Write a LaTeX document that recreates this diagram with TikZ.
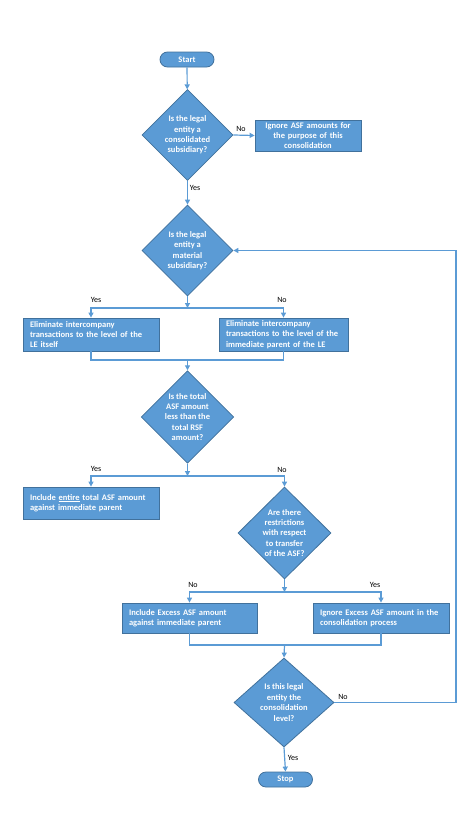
\documentclass[tikz,border=0pt]{standalone}
\usepackage{fontspec}
\setmainfont{Carlito}
\usetikzlibrary{shapes.geometric,arrows.meta}

\definecolor{asfblue}{HTML}{5B9BD5}
\definecolor{asfedge}{HTML}{41719C}
\newcommand{\boxfont}{\bfseries\fontsize{8.5}{10.4}\selectfont}

\tikzset{
	terminal/.style={rectangle,draw=asfedge,fill=asfblue,line width=0.8pt,rounded corners=7.5pt,
		minimum width=54pt,minimum height=15pt,inner sep=0pt,text=white,font=\boxfont},
	decision/.style={diamond,draw=asfedge,fill=asfblue,line width=0.8pt,inner sep=0pt,
		minimum width=91pt,minimum height=91pt,align=center,text=white,font=\boxfont},
	process/.style={rectangle,draw=asfedge,fill=asfblue,line width=0.8pt,inner xsep=7pt,inner ysep=0pt,
		minimum height=32pt,align=left,text=white,font=\boxfont},
	flow/.style={draw=asfblue,line width=1.2pt,-{Triangle[width=5pt,length=5pt]}},
	link/.style={draw=asfblue,line width=1.2pt},
	answer/.style={inner sep=0pt,font=\fontsize{8}{9}\selectfont}
}

\begin{document}
\begin{tikzpicture}[x=1pt,y=-1pt]
	\useasboundingbox (0,0) rectangle (472,838);

	%terminals and decisions
	\node[terminal] (start) at (187,59.5) {Start};
	\node[decision] (d1) at (187.5,135) {Is the legal\\entity a\\consolidated\\subsidiary?};
	\node[decision] (d2) at (187.5,250.5) {Is the legal\\entity a\\material\\subsidiary?};
	\node[decision] (d3) at (187.5,417) {Is the total\\ASF amount\\less than the\\total RSF\\amount?};
	\node[decision,minimum width=93pt,minimum height=92pt] (d4) at (284.5,533) {Are there\\restrictions\\with respect\\to transfer\\of the ASF?};
	\node[decision,minimum width=100pt,minimum height=89pt] (d5) at (284,702.5) {Is this legal\\entity the\\consolidation\\level?};
	\node[terminal] (stop) at (285.5,779.5) {Stop};

	%process boxes
	\node[process,align=center,text width=92pt,minimum height=31pt] (ignore) at (308,135.5) {Ignore ASF amounts for\\the purpose of this\\consolidation};
	\node[process,text width=122pt,minimum height=33pt] (elimle) at (91,334.5) {Eliminate intercompany\\transactions to the level of the\\LE itself};
	\node[process,text width=115pt,minimum height=33pt] (elimpar) at (283.5,334.5) {Eliminate intercompany\\transactions to the level of the\\immediate parent of the LE};
	\node[process,text width=122pt] (entire) at (91,503) {Include \underline{entire} total ASF amount\\against immediate parent};
	\node[process,text width=121pt,minimum height=30pt] (excess) at (189.5,618) {Include Excess ASF amount\\against immediate parent};
	\node[process,text width=122pt,minimum height=30pt] (ignexc) at (381,618) {Ignore Excess ASF amount in the\\consolidation process};

	%junctions
	\coordinate (split1) at (187.5,308);
	\coordinate (merge1) at (187.5,360);
	\coordinate (split2) at (187.5,476);
	\coordinate (split3) at (284.5,592);
	\coordinate (merge3) at (284.5,645);
	\coordinate (loop) at (456,702.5);

	%connectors
	\draw[flow] (start) -- (d1);
	\draw[flow] (d1.east) -- (ignore.west);
	\draw[flow] (d1.south) -- (d2.north);
	\draw[flow] (d2.south) -- (split1);
	\draw[flow] (split1) -| (elimle.north);
	\draw[flow] (split1) -| (elimpar.north);
	\draw[link] (elimle.south) |- (merge1);
	\draw[link] (elimpar.south) |- (merge1);
	\draw[flow] (merge1) -- (d3.north);
	\draw[flow] (d3.south) -- (split2);
	\draw[flow] (split2) -| (entire.north);
	\draw[flow] (split2) -| (d4.north);
	\draw[flow] (d4.south) -- (split3);
	\draw[flow] (split3) -| (excess.north);
	\draw[flow] (split3) -| (ignexc.north);
	\draw[link] (excess.south) |- (merge3);
	\draw[link] (ignexc.south) |- (merge3);
	\draw[flow] (merge3) -- (d5.north);
	\draw[flow] (d5.east) -- (loop) |- (d2.east);
	\draw[flow] (d5.south) -- (stop.north);

	%answers
	\node[answer] (no1) at (241,129) {No};
	\node[answer] (yes1) at (195,188) {Yes};
	\node[answer] (yes2) at (96,300) {Yes};
	\node[answer] (no2) at (282,300) {No};
	\node[answer] (yes3) at (96,469) {Yes};
	\node[answer] (no3) at (282,470) {No};
	\node[answer] (no4) at (193,585) {No};
	\node[answer] (yes4) at (375,585) {Yes};
	\node[answer] (no5) at (343,697) {No};
	\node[answer] (yes5) at (293,758) {Yes};
\end{tikzpicture}
\end{document}
